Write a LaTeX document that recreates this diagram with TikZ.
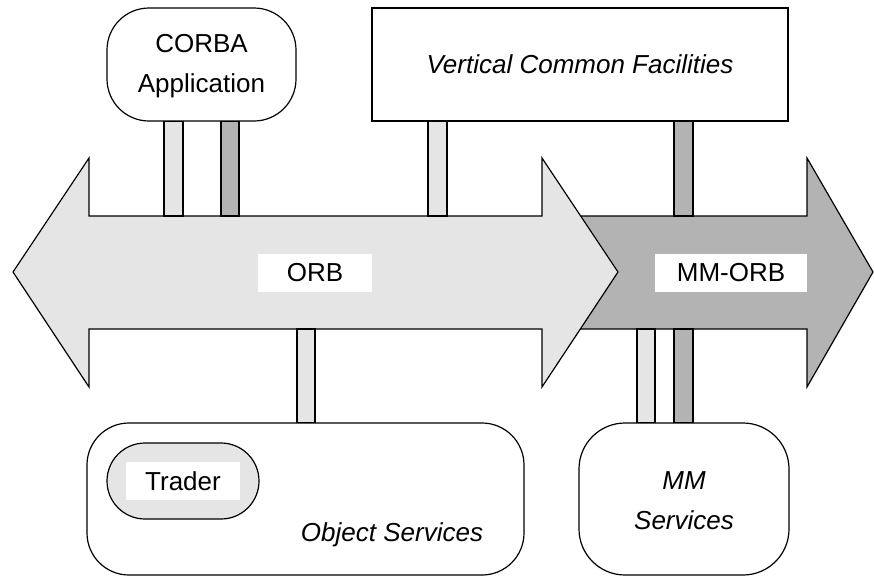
\documentclass[tikz,border=0pt]{standalone}
\usepackage{fontspec}
\setmainfont{Liberation Sans}
\definecolor{lightg}{HTML}{E5E5E5}
\definecolor{darkg}{HTML}{B3B3B3}
\begin{document}
\begin{tikzpicture}[x=1pt,y=-1pt,line width=1.2pt,
  txt/.style={font=\fontsize{26}{40}\selectfont,align=center},
  whitebox/.style={draw,fill=white,inner sep=0pt,txt},
  label/.style={fill=white,inner sep=0pt,txt,minimum height=38pt},
  lightbar/.style={draw,fill=lightg},
  darkbar/.style={draw,fill=darkg},
  bigarrow/.style={draw,line join=miter}]
\useasboundingbox (0,0) rectangle (874,576);
% arrows
\draw[bigarrow,fill=darkg] (560,216) -- (807,216) -- (807,158) -- (873,272) -- (807,387) -- (807,329) -- (560,329) -- cycle;
\draw[bigarrow,fill=lightg] (13,272) -- (89,158) -- (89,216) -- (542,216) -- (542,158) -- (618,272) -- (542,387) -- (542,329) -- (89,329) -- (89,387) -- cycle;
\coordinate (shaftT) at (0,216);
\coordinate (shaftB) at (0,329);
\node[label,minimum width=114pt] (orb) at (315,273) {ORB};
\node[label,minimum width=152pt] (mmorb) at (731,273) {MM-ORB};
% boxes
\node[whitebox,rounded corners=42pt,minimum width=189pt,minimum height=113pt] (corba) at (201.5,64.5) {};
\node[txt,inner sep=0pt] (corbalab) at (201.5,66) {CORBA\\Application};
\node[whitebox,minimum width=416pt,minimum height=113pt,font=\fontsize{26}{40}\selectfont\itshape] (vcf) at (580,64.5) {Vertical Common Facilities};
\node[whitebox,rounded corners=42pt,minimum width=437pt,minimum height=152pt] (objserv) at (305.5,499) {};
\node[txt,font=\fontsize{26}{40}\selectfont\itshape,inner sep=0pt] (objlab) at (392,535) {Object Services};
\node[draw,fill=lightg,rounded corners=38pt,minimum width=152pt,minimum height=76pt,inner sep=0pt] (trader) at (183,481) {};
\node[label,minimum width=114pt] (traderlab) at (trader.center) {Trader};
\node[whitebox,rounded corners=46pt,minimum width=210pt,minimum height=152pt] (mmserv) at (684,499) {};
\node[txt,font=\fontsize{26}{40}\selectfont\itshape,inner sep=0pt] (mmlab) at (684,501) {MM\\Services};
% bars (connectors)
\draw[lightbar] (corba.south -| 164,0) rectangle (shaftT -| 183,0);
\draw[darkbar] (corba.south -| 221,0) rectangle (shaftT -| 239,0);
\draw[lightbar] (vcf.south -| 428,0) rectangle (shaftT -| 447,0);
\draw[darkbar] (vcf.south -| 674,0) rectangle (shaftT -| 693,0);
\draw[lightbar] (shaftB -| 297,0) rectangle (objserv.north -| 315,0);
\draw[lightbar] (shaftB -| 637,0) rectangle (mmserv.north -| 655,0);
\draw[darkbar] (shaftB -| 674,0) rectangle (mmserv.north -| 693,0);
\end{tikzpicture}
\end{document}
